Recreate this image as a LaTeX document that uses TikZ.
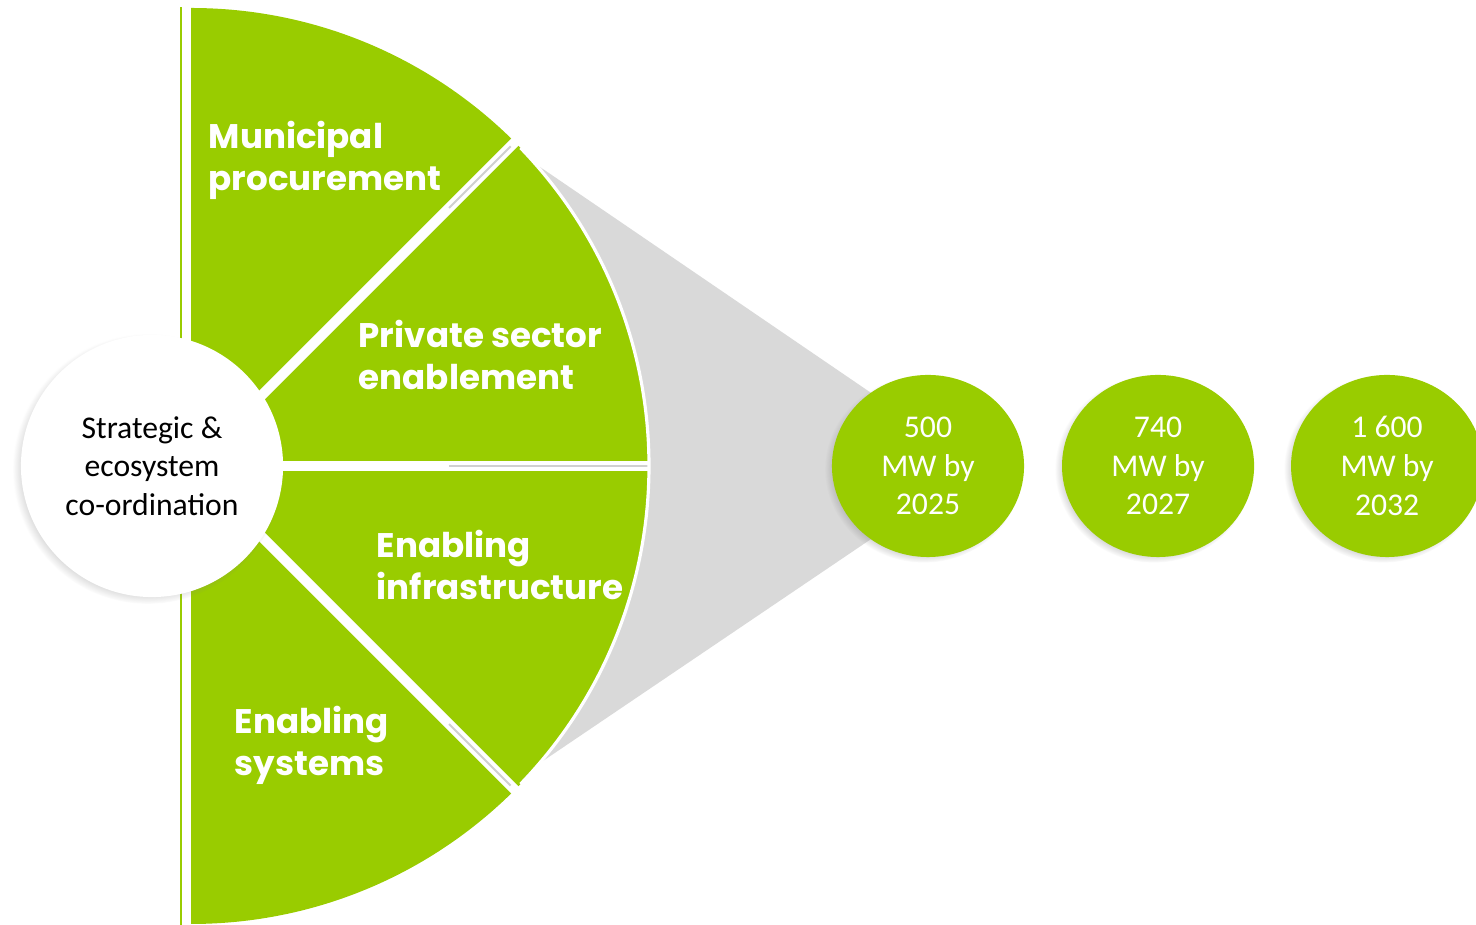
\documentclass[tikz,border=0pt]{standalone}
\usepackage{fontspec}
\setmainfont{Carlito}
\newfontfamily\secfont{Poppins}
\usetikzlibrary{calc,positioning,shapes.geometric,shadows,fadings}

\definecolor{leaf}{HTML}{99CC00}
\definecolor{funnel}{HTML}{D9D9D9}
\definecolor{gapgrey}{HTML}{D0D0D0}

\tikzset{
  gapline/.style={white, line width=2.85pt},
  shadeline/.style={draw=gapgrey, line width=0.55pt},
  sector/.style={font=\secfont\bfseries\fontsize{9.7}{12.2}\selectfont,
    text=white, align=left, inner sep=0pt, anchor=base west},
  softshadow/.style={circular drop shadow={shadow xshift=-1.2pt,
    shadow yshift=-0.8pt, shadow scale=1.03, opacity=0.55}},
  hub/.style={circle, fill=white, minimum size=2.62cm, inner sep=0pt,
    align=center, font=\fontsize{9}{11}\selectfont, softshadow},
  target/.style={ellipse, fill=leaf, minimum width=1.92cm, minimum height=1.82cm,
    inner sep=0pt, align=center, text=white, font=\fontsize{9}{11}\selectfont,
    softshadow},
}

\begin{document}
\begin{tikzpicture}[x=0.01cm, y=0.01cm]
\useasboundingbox (0,0) rectangle (1476,925);
\coordinate (ctr) at (191,459);

% grey funnel behind the disc
\fill[funnel] (540,758) -- (880,526) -- (880,392) -- (540,162) -- (560,459) -- cycle;

% half disc and its gaps
\fill[leaf] (ctr) ++(90:458) arc (90:-90:458) -- cycle;
\foreach \a in {45,-45}
{\draw[gapline] (ctr) -- ($(ctr)+(\a:464)$);}
\draw[gapline] (ctr) -- ($(ctr)+(0:458)$);
\draw[shadeline] ($(ctr)+(45:365)$) -- ($(ctr)+(45:452)$);
\draw[shadeline] ($(ctr)+(0:258)$) -- ($(ctr)+(0:457)$);
\draw[shadeline] ($(ctr)+(-45:365)$) -- ($(ctr)+(-45:452)$);
\draw[white, line width=0.9pt] ($(ctr)+(44:458)$) arc (44:-44:458);
\draw[leaf, line width=0.6pt] (181,0) -- (181,918);

% hub
\node[hub] (strat) at (152,459) {Strategic \&\\ecosystem\\co-ordination};

% sector labels (base = last line)
\node[sector] (muni) at (208,734) {Municipal\\procurement};
\node[sector] (priv) at (358,535) {Private sector\\enablement};
\node[sector] (infra) at (376,325) {Enabling\\infrastructure};
\node[sector] (sys) at (234,149) {Enabling\\systems};

% targets
\node[target] (t1) at (928,459) {500\\MW by\\2025};
\node[target, right=0.365cm of t1] (t2) {740\\MW by\\2027};
\node[target, right=0.355cm of t2] (t3) {1 600\\MW by\\2032};
\end{tikzpicture}
\end{document}
